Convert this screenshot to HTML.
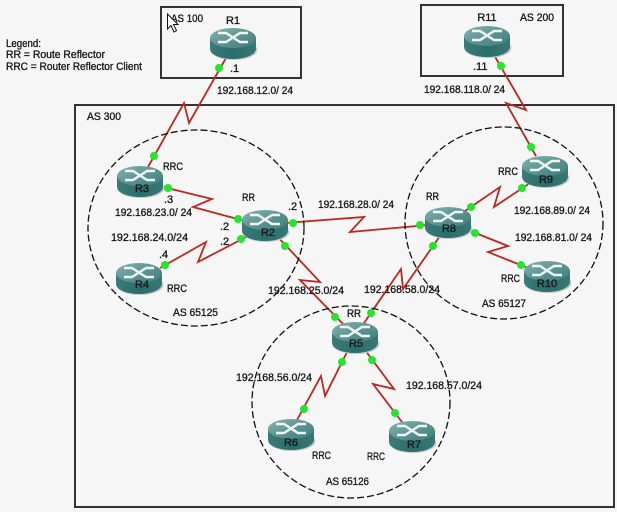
<!DOCTYPE html>
<html>
<head>
<meta charset="utf-8">
<style>
html,body{margin:0;padding:0;background:#f6f6f6;width:617px;height:512px;overflow:hidden}
svg{display:block}
text{font-family:"Liberation Sans",sans-serif;font-size:11px;fill:#1a1a1a;stroke:#1a1a1a;stroke-width:.35px}
.box{fill:none;stroke:#333;stroke-width:2}
.as{fill:none;stroke:#111;stroke-width:1.3;stroke-dasharray:7 3}
.l{fill:none;stroke:#bd2820;stroke-width:1.8;stroke-linejoin:miter}
.d{fill:#22e62c}
.c{text-anchor:middle}
</style>
</head>
<body>
<svg width="617" height="512" viewBox="0 0 617 512" xmlns="http://www.w3.org/2000/svg">
<defs>
<linearGradient id="top" x1="0" y1="0" x2="1" y2="1">
<stop offset="0" stop-color="#86b3b1"/><stop offset=".55" stop-color="#5a9290"/><stop offset="1" stop-color="#3c7c7a"/>
</linearGradient>
<linearGradient id="body" x1="0" y1="0" x2="1" y2="0">
<stop offset="0" stop-color="#3a7c7a"/><stop offset=".5" stop-color="#2a6d6b"/><stop offset="1" stop-color="#387876"/>
</linearGradient>
<symbol id="router" viewBox="-25 -17 50 36" width="50" height="36" overflow="visible">
<ellipse cx="1" cy="7" rx="23.500" ry="10" fill="#c4cccc"/>
<path d="M-23 -5V6A23 10 0 0 0 23 6V-5Z" fill="url(#body)"/>
<ellipse cx="0" cy="-5" rx="23" ry="10" fill="url(#top)"/>
<g fill="none" stroke="#edf4f3" stroke-width="2.400">
<path d="M-15 -10H-7L7 -1H15"/>
<path d="M15 -10H7L-7 -1H-15"/>
</g>
</symbol>
</defs>

<rect x="161" y="7" width="140" height="71" class="box"/>
<rect x="421" y="5" width="142" height="71" class="box"/>
<rect x="75" y="105" width="539" height="402" class="box"/>

<polyline class="l" points="226,58 189,123 184,103 148,167"/>
<polyline class="l" points="494,55 526,110 506,103 536,156"/>
<polyline class="l" points="163,187 212,199 193,207 245,221"/>
<polyline class="l" points="160,268 206,242 198,262 248,236"/>
<polyline class="l" points="285,223 364,217 350,232 428,225"/>
<polyline class="l" points="276,235 320,282 300,280 345,326"/>
<polyline class="l" points="440,236 403,289 401,269 362,326"/>
<polyline class="l" points="465,211 500,187 494,207 530,183"/>
<polyline class="l" points="468,230 508,246 488,252 528,268"/>
<polyline class="l" points="348,350 325,396 321,376 297,420"/>
<polyline class="l" points="365,350 394,389 373,384 402,422"/>

<ellipse class="as" cx="196" cy="228" rx="108" ry="98"/>
<ellipse class="as" cx="504" cy="223" rx="99" ry="96"/>
<ellipse class="as" cx="351" cy="402" rx="99" ry="96"/>

<use href="#router" x="208" y="26"/>
<use href="#router" x="462" y="24"/>
<use href="#router" x="115" y="164"/>
<use href="#router" x="240" y="208"/>
<use href="#router" x="114" y="261"/>
<use href="#router" x="520" y="154"/>
<use href="#router" x="423" y="205"/>
<use href="#router" x="522" y="259"/>
<use href="#router" x="330" y="320"/>
<use href="#router" x="266" y="417"/>
<use href="#router" x="387" y="419"/>

<circle class="d" cx="219" cy="68" r="4"/>
<circle class="d" cx="154" cy="156" r="4"/>
<circle class="d" cx="501" cy="66" r="4"/>
<circle class="d" cx="531" cy="147" r="4"/>
<circle class="d" cx="168" cy="188" r="4"/>
<circle class="d" cx="238" cy="219" r="4"/>
<circle class="d" cx="241" cy="239" r="4"/>
<circle class="d" cx="165" cy="265" r="4"/>
<circle class="d" cx="293" cy="223" r="4"/>
<circle class="d" cx="420" cy="225" r="4"/>
<circle class="d" cx="285" cy="246" r="4"/>
<circle class="d" cx="433" cy="246" r="4"/>
<circle class="d" cx="335" cy="317" r="4"/>
<circle class="d" cx="371" cy="313" r="4"/>
<circle class="d" cx="471" cy="207" r="4"/>
<circle class="d" cx="522" cy="188" r="4"/>
<circle class="d" cx="475" cy="233" r="4"/>
<circle class="d" cx="521" cy="265" r="4"/>
<circle class="d" cx="342" cy="362" r="4"/>
<circle class="d" cx="372" cy="360" r="4"/>
<circle class="d" cx="304" cy="409" r="4"/>
<circle class="d" cx="395" cy="413" r="4"/>

<text x="6" y="47" textLength="35" lengthAdjust="spacingAndGlyphs">Legend:</text>
<text x="6" y="58" textLength="99" lengthAdjust="spacingAndGlyphs">RR =  Route Reflector</text>
<text x="6" y="70" textLength="136" lengthAdjust="spacingAndGlyphs">RRC =  Router Reflector Client</text>

<text x="171" y="22" textLength="32" lengthAdjust="spacingAndGlyphs">AS 100</text>
<text x="233" y="24" class="c">R1</text>
<text x="230" y="72">.1</text>
<text x="217" y="94" textLength="76" lengthAdjust="spacingAndGlyphs">192.168.12.0/ 24</text>

<text x="520" y="21" textLength="34" lengthAdjust="spacingAndGlyphs">AS 200</text>
<text x="487" y="21" class="c">R11</text>
<text x="473" y="70">.11</text>
<text x="424" y="93" textLength="81" lengthAdjust="spacingAndGlyphs">192.168.118.0/ 24</text>

<text x="87" y="120" textLength="34" lengthAdjust="spacingAndGlyphs">AS 300</text>

<text x="163" y="170" textLength="20" lengthAdjust="spacingAndGlyphs">RRC</text>
<text x="142" y="192" class="c">R3</text>
<text x="164" y="203">.3</text>
<text x="115" y="216" textLength="77" lengthAdjust="spacingAndGlyphs">192.168.23.0/ 24</text>
<text x="242" y="201" textLength="13" lengthAdjust="spacingAndGlyphs">RR</text>
<text x="288" y="210">.2</text>
<text x="220" y="230">.2</text>
<text x="220" y="245">.2</text>
<text x="268" y="236" class="c">R2</text>
<text x="111" y="241" textLength="77" lengthAdjust="spacingAndGlyphs">192.168.24.0/24</text>
<text x="159" y="258">.4</text>
<text x="142" y="288" class="c">R4</text>
<text x="167" y="292" textLength="20" lengthAdjust="spacingAndGlyphs">RRC</text>
<text x="173" y="316" textLength="45" lengthAdjust="spacingAndGlyphs">AS 65125</text>

<text x="318" y="208" textLength="76" lengthAdjust="spacingAndGlyphs">192.168.28.0/ 24</text>

<text x="498" y="175" textLength="20" lengthAdjust="spacingAndGlyphs">RRC</text>
<text x="546" y="183" class="c">R9</text>
<text x="426" y="200" textLength="13" lengthAdjust="spacingAndGlyphs">RR</text>
<text x="449" y="232" class="c">R8</text>
<text x="514" y="214" textLength="76" lengthAdjust="spacingAndGlyphs">192.168.89.0/ 24</text>
<text x="515" y="241" textLength="77" lengthAdjust="spacingAndGlyphs">192.168.81.0/ 24</text>
<text x="501" y="282" textLength="19" lengthAdjust="spacingAndGlyphs">RRC</text>
<text x="547" y="287" class="c">R10</text>
<text x="482" y="307" textLength="44" lengthAdjust="spacingAndGlyphs">AS 65127</text>

<text x="268" y="294" textLength="76" lengthAdjust="spacingAndGlyphs">192.168.25.0/24</text>
<text x="364" y="293" textLength="76" lengthAdjust="spacingAndGlyphs">192.168.58.0/24</text>
<text x="347" y="317" textLength="14" lengthAdjust="spacingAndGlyphs">RR</text>
<text x="356" y="347" class="c">R5</text>
<text x="236" y="381" textLength="76" lengthAdjust="spacingAndGlyphs">192.168.56.0/24</text>
<text x="406" y="389" textLength="76" lengthAdjust="spacingAndGlyphs">192.168.57.0/24</text>
<text x="291" y="446" class="c">R6</text>
<text x="414" y="448" class="c">R7</text>
<text x="312" y="459" textLength="19" lengthAdjust="spacingAndGlyphs">RRC</text>
<text x="367" y="460" textLength="18" lengthAdjust="spacingAndGlyphs">RRC</text>
<text x="326" y="485" textLength="43" lengthAdjust="spacingAndGlyphs">AS 65126</text>

<polygon points="167.500,14 178,24.500 173.500,24.500 176.500,30.500 174,32 171,25.500 167.500,29" fill="#fff" stroke="#111" stroke-width="1"/>
</svg>
</body>
</html>
